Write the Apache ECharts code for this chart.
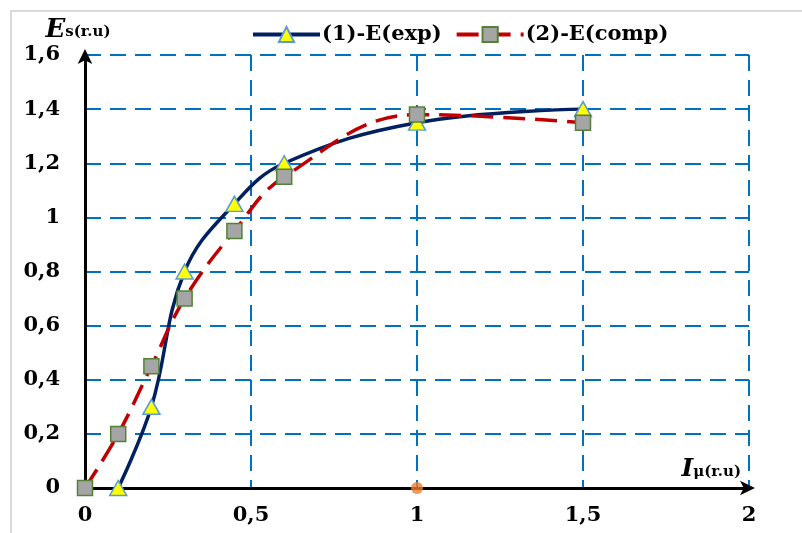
<!DOCTYPE html>
<html><head><meta charset="utf-8">
<script src="https://cdn.jsdelivr.net/npm/echarts@6/dist/echarts.min.js"></script>
<style>html,body{margin:0;padding:0;background:#fff}#c{width:802px;height:533px}</style>
</head><body><div id="c"></div>
<script>
const xTicks = [0, 0.5, 1, 1.5, 2];
const yTicks = [0, 0.2, 0.4, 0.6, 0.8, 1, 1.2, 1.4, 1.6];
const expX = [0.1, 0.2, 0.3, 0.45, 0.6, 1, 1.5];
const expY = [0, 0.3, 0.8, 1.05, 1.2, 1.35, 1.4];
const compX = [0, 0.1, 0.2, 0.3, 0.45, 0.6, 1, 1.5];
const compY = [0, 0.2, 0.45, 0.7, 0.95, 1.15, 1.38, 1.35];
const markX = [1];
const markY = [0];
const names = ['(1)-E(exp)', '(2)-E(comp)'];

const fmt = v => String(v).replace('.', ',');
const pairs = (xs, ys) => xs.map((x, i) => [x, ys[i]]);
const font = 'DejaVu Serif';
const grid = {type: [16, 9], color: '#0070C0', width: 2};

const chart = echarts.init(document.getElementById('c'));
chart.setOption({
  animation: false,
  backgroundColor: '#fff',
  graphic: [{type: 'rect', shape: {x: 11, y: 11, width: 800, height: 530},
    style: {fill: 'none', stroke: '#D9D9D9', lineWidth: 2}, silent: true}],
  grid: {left: 85, right: 53, top: 55, bottom: 45},
  legend: {
    top: 19, left: 246, itemWidth: 67, itemHeight: 19, itemGap: 13,
    lineStyle: {width: 4},
    textStyle: {fontFamily: font, fontWeight: 'bold', fontSize: 21, color: '#000', padding: [0, 0, 0, -3]},
    data: names
  },
  xAxis: {
    type: 'value', min: 0, max: 2, interval: 0.5,
    name: '{i|I}{s|μ(r.u)}', nameLocation: 'end', nameGap: -8,
    nameTextStyle: {align: 'right', verticalAlign: 'bottom', padding: [0, 0, 6, 0],
      rich: {i: {fontFamily: font, fontStyle: 'italic', fontWeight: 'bold', fontSize: 25, color: '#000'},
             s: {fontFamily: font, fontWeight: 'bold', fontSize: 15, color: '#000', padding: [6, 0, 0, 0]}}},
    axisLine: {lineStyle: {color: '#000', width: 3}, symbol: ['none', 'arrow'], symbolSize: [11, 15], symbolOffset: [0, 6]},
    axisTick: {show: false},
    axisLabel: {margin: 17, fontFamily: font, fontWeight: 'bold', fontSize: 21, color: '#000',
      formatter: v => fmt(v)},
    splitLine: {show: true, lineStyle: grid}
  },
  yAxis: {
    type: 'value', min: 0, max: 1.6, interval: 0.2,
    name: '{e|E}{s|s(r.u)}', nameLocation: 'end', nameGap: 12,
    nameTextStyle: {padding: [0, 14, 0, 0],
      rich: {e: {fontFamily: font, fontStyle: 'italic', fontWeight: 'bold', fontSize: 26, color: '#000'},
             s: {fontFamily: font, fontWeight: 'bold', fontSize: 15, color: '#000', padding: [4, 0, 0, 0]}}},
    axisLine: {show: true, lineStyle: {color: '#000', width: 3}, symbol: ['none', 'arrow'], symbolSize: [11, 15], symbolOffset: [0, 6]},
    axisTick: {show: false},
    axisLabel: {margin: 25, fontFamily: font, fontWeight: 'bold', fontSize: 21, color: '#000',
      formatter: v => fmt(+v.toFixed(1))},
    splitLine: {show: true, lineStyle: grid}
  },
  series: [
    {name: names[0], type: 'line', smooth: 0.4, data: pairs(expX, expY),
      lineStyle: {color: '#002060', width: 3.5},
      itemStyle: {color: '#FFFF00', borderColor: '#5B9BD5', borderWidth: 1.5},
      symbol: 'triangle', symbolSize: [17, 15], z: 3},
    {name: names[1], type: 'line', smooth: 0.4, data: pairs(compX, compY),
      lineStyle: {color: '#C00000', width: 3.5, type: [22, 10]},
      itemStyle: {color: '#A5A5A5', borderColor: '#548235', borderWidth: 1.5},
      symbol: 'rect', symbolSize: 15, z: 4},
    {name: 'mark', type: 'scatter', data: pairs(markX, markY), symbol: 'circle', symbolSize: 12,
      itemStyle: {color: '#ED7D31'}, z: 5}
  ]
});
</script></body></html>
